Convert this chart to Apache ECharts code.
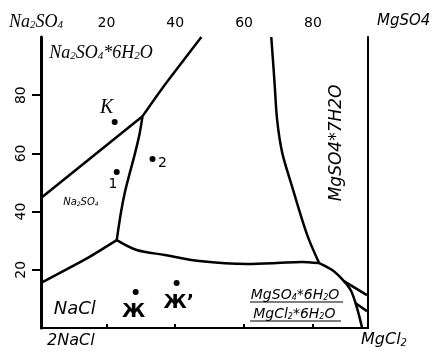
<!DOCTYPE html>
<html>
<head>
<meta charset="utf-8">
<script src="https://cdn.jsdelivr.net/npm/echarts@6/dist/echarts.min.js"></script>
<style>
  html, body { margin: 0; padding: 0; background: #fff; }
  #chart { width: 435px; height: 351px; }
</style>
</head>
<body>
<div id="chart"></div>
<script>
// tick labels
var xTicks = [20, 40, 60, 80];
var yTicks = [20, 40, 60, 80];

// boundary curves of the phase diagram
var curveA = [[47.6, 100], [36.3, 82.5], [30.5, 72.8]];
var curveB = [[1, 44.7], [30.5, 72.8]];
var curveC = [[30.5, 72.8], [29.6, 66.5], [28.2, 59.5], [26.8, 53.3], [25.4, 46.8], [24.2, 39.5], [23.0, 30.2]];
var curveD = [[1, 15.5], [14.6, 24.1], [23.0, 30.2]];
var curveE = [[23.0, 30.2], [28.8, 26.8], [36.9, 25.1], [47.0, 23.0], [61.0, 22.0], [69.6, 22.3], [76.6, 22.7], [81.8, 22.3]];
var curveF = [[67.9, 100], [68.8, 85.2], [69.6, 71.5], [71.1, 60.1], [74.0, 48.4], [76.9, 37.1], [78.9, 30.2], [81.8, 22.3]];
var curveG = [[81.8, 22.3], [85.6, 19.9], [89.0, 16.1], [91.1, 12.7], [92.8, 6.9], [94.3, 0]];
var curveH1 = [[89.0, 16.1], [95.7, 11.3]];
var curveH2 = [[92.3, 8.6], [95.7, 5.8]];

// composition points
var pointNames = ["K", "1", "2", "Ж", "Ж’"];
var pointX = [22.4, 23.0, 33.4, 28.5, 40.4];
var pointY = [70.8, 53.6, 58.1, 12.4, 15.5];

// field names (anchored in data coords)
var fieldText = ["Na2SO4*6H2O", "Na2SO4", "NaCl", "MgSO4*7H2O", "MgSO4*6H2O", "MgCl2*6H2O"];
var fieldX = [18.4, 12.6, 10.8, 87.0, 74.8, 74.6];
var fieldY = [94.5, 43.3, 6.5, 63.6, 11.3, 4.8];

var chart = echarts.init(document.getElementById("chart"));

var sans = "DejaVu Sans";
var serif = "Liberation Serif";

// rich text: digits after letters become subscripts
function chem(str) {
  return str.split(/(?<=[A-Za-z])(\d)/).map(function (part, i) {
    if (!part) return "";
    return i % 2 === 1 ? "{s|" + part + "}" : "{n|" + part + "}";
  }).join("");
}
function richStyle(family, size) {
  return {
    n: { fontFamily: family, fontStyle: "italic", fontSize: size, color: "#000" },
    s: { fontFamily: family, fontStyle: "italic", fontSize: Math.round(size * 0.6), verticalAlign: "bottom", color: "#000" }
  };
}

function boundary(data, smooth) {
  return {
    type: "line",
    data: data,
    smooth: smooth,
    symbol: "none",
    silent: true,
    lineStyle: { color: "#000", width: 2.5 },
  };
}

// font, size, rotation, whether digits are subscripts
var fieldStyles = [
  { family: serif, size: 18, rotate: 0, sub: true },
  { family: sans, size: 10, rotate: 0, sub: true },
  { family: sans, size: 18, rotate: 0, sub: true },
  { family: sans, size: 17, rotate: 90, sub: false },
  { family: sans, size: 14, rotate: 0, sub: true },
  { family: sans, size: 14, rotate: 0, sub: true },
];

var fieldData = fieldText.map(function (t, i) {
  var st = fieldStyles[i];
  return {
    value: [fieldX[i], fieldY[i]],
    label: {
      show: true,
      position: "inside",
      formatter: st.sub ? chem(t) : t,
      fontFamily: st.family,
      fontStyle: "italic",
      fontSize: st.size,
      rotate: st.rotate,
      color: "#000",
      rich: richStyle(st.family, st.size),
    },
  };
});

var pointLabelPos = [
  [20.1, 75.6, serif, 20],
  [21.9, 49.5, sans, 14],
  [36.3, 56.7, sans, 14],
  [27.9, 5.5, sans, 19],
  [41.0, 8.6, sans, 19],
];
var pointLabelData = pointNames.map(function (n, i) {
  var p = pointLabelPos[i];
  return {
    value: [p[0], p[1]],
    label: {
      show: true,
      position: "inside",
      formatter: n,
      fontFamily: p[2],
      fontStyle: i === 0 ? "italic" : "normal",
      fontWeight: i >= 3 ? "bold" : "normal",
      fontSize: p[3],
      color: "#000",
    },
  };
});

var option = {
  animation: false,
  backgroundColor: "#fff",
  grid: { left: 41, top: 37, right: 67, bottom: 23 },
  xAxis: [
    {
      type: "value",
      position: "top",
      min: 1,
      max: 96,
      axisLine: { lineStyle: { color: "#000", width: 2 } },
      axisTick: { inside: false, length: 4, customValues: xTicks, lineStyle: { color: "#000", width: 2 } },
      axisLabel: { customValues: xTicks, margin: 7, color: "#000", fontFamily: sans, fontSize: 14 },
      splitLine: { show: false },
    },
    {
      type: "value",
      position: "bottom",
      min: 1,
      max: 96,
      axisLine: { lineStyle: { color: "#000", width: 2 } },
      axisTick: { show: false },
      axisLabel: { show: false },
      splitLine: { show: false },
    },
  ],
  yAxis: [
    {
      type: "value",
      position: "left",
      min: 0,
      max: 100,
      axisLine: { show: true, lineStyle: { color: "#000", width: 3 } },
      axisTick: { show: true, length: 9, customValues: yTicks, lineStyle: { color: "#000", width: 2 } },
      axisLabel: { customValues: yTicks, rotate: 90, margin: 13, color: "#000", fontFamily: sans, fontSize: 14 },
      splitLine: { show: false },
    },
    {
      type: "value",
      position: "right",
      min: 0,
      max: 100,
      axisLine: { show: true, lineStyle: { color: "#000", width: 2 } },
      axisTick: { show: false },
      axisLabel: { show: false },
      splitLine: { show: false },
    },
  ],
  series: [
    boundary(curveA, 0.2),
    boundary(curveB, false),
    boundary(curveC, 0.3),
    boundary(curveD, 0.2),
    boundary(curveE, 0.3),
    boundary(curveF, 0.3),
    boundary(curveG, 0.3),
    boundary(curveH1, false),
    boundary(curveH2, false),
    {
      type: "scatter",
      data: pointX.map(function (x, i) { return [x, pointY[i]]; }),
      symbolSize: 6,
      itemStyle: { color: "#000", opacity: 1 },
      silent: true,
    },
    {
      type: "scatter",
      data: pointLabelData,
      symbolSize: 0,
      itemStyle: { opacity: 1 },
      silent: true,
    },
    {
      type: "scatter",
      data: fieldData,
      symbolSize: 0,
      itemStyle: { opacity: 1 },
      silent: true,
    },
  ],
  graphic: [
    { type: "text", left: 9, top: 13, style: { text: chem("Na2SO4"), fontFamily: serif, fontStyle: "italic", fontSize: 18, fill: "#000", rich: richStyle(serif, 18) } },
    { type: "text", left: 377, top: 14, style: { text: "MgSO4", fontFamily: sans, fontStyle: "italic", fontSize: 15, fill: "#000" } },
    { type: "text", left: 47, top: 333, style: { text: "2NaCl", fontFamily: sans, fontStyle: "italic", fontSize: 16, fill: "#000" } },
    { type: "text", left: 361, top: 332, style: { text: chem("MgCl2"), fontFamily: sans, fontStyle: "italic", fontSize: 16, fill: "#000", rich: richStyle(sans, 16) } },
    { type: "line", shape: { x1: 250, y1: 302, x2: 343, y2: 302 }, style: { stroke: "#000", lineWidth: 1.2 } },
    { type: "line", shape: { x1: 250, y1: 321, x2: 341, y2: 321 }, style: { stroke: "#000", lineWidth: 1.2 } },
  ],
};

chart.setOption(option);
</script>
</body>
</html>
